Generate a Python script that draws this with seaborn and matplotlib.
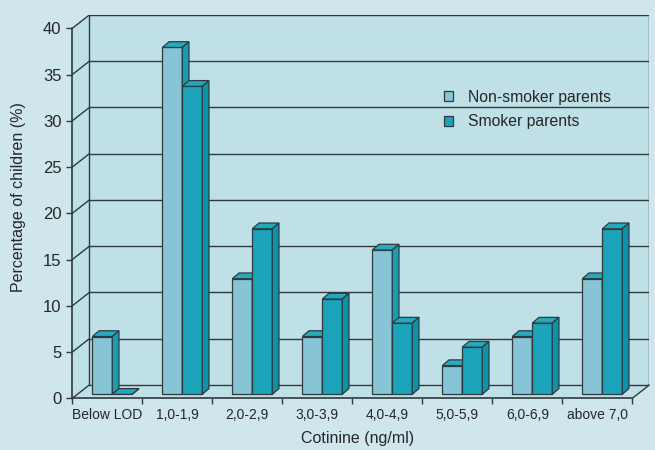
import matplotlib
matplotlib.use("Agg")
import matplotlib.pyplot as plt
from matplotlib.patches import Polygon, Patch
import seaborn as sns
import pandas as pd

# Percentages of children per cotinine range
categories = ["Below LOD", "1,0-1,9", "2,0-2,9", "3,0-3,9",
              "4,0-4,9", "5,0-5,9", "6,0-6,9", "above 7,0"]
non_smoker = [6.25, 37.5, 12.5, 6.25, 15.6, 3.1, 6.25, 12.5]
smoker = [0.0, 33.3, 17.9, 10.3, 7.7, 5.1, 7.7, 17.9]
series_names = ["Non-smoker parents", "Smoker parents"]
y_ticks = [0, 5, 10, 15, 20, 25, 30, 35, 40]

df = pd.DataFrame({
    "range": categories * 2,
    "pct": non_smoker + smoker,
    "group": [series_names[0]] * len(categories) + [series_names[1]] * len(categories),
})

OUTER = "#cfe6ed"
INNER = "#bfe0e7"
LINE = "#2e3a3e"
TEXT = "#262626"
FRONT = ["#87c5d6", "#1ba3ba"]
TOP = ["#28a9bf", "#24a8be"]
SIDE = ["#179db3", "#0b93a9"]

sns.set_theme(style="white")
plt.rcParams["font.family"] = ["Liberation Sans", "DejaVu Sans"]
plt.rcParams["text.color"] = TEXT

fig = plt.figure(figsize=(6.55, 4.5), dpi=100, facecolor=OUTER)
ax = fig.add_axes([72.3 / 655, (450 - 398.3) / 450, 577 / 655, 383.3 / 450])
ax.set_facecolor(OUTER)

# depth of the box (back wall offset) and of the bars, in data units
wall_dx, wall_dy = 0.243, 1.44
plane_dx, plane_dy = 0.071, 0.43
bar_dx, bar_dy = 0.096, 0.62
ymax = 40

sns.barplot(data=df, x="range", y="pct", hue="group", order=categories,
            hue_order=series_names, palette=FRONT, saturation=1, width=0.571,
            edgecolor=LINE, linewidth=0.9, legend=False, ax=ax)

# walls and floor
nx = len(categories)
x0, x1 = -0.5, nx - 0.5
ax.add_patch(Polygon([(x0, 0), (x0, ymax), (x0 + wall_dx, ymax + wall_dy),
                      (x1 + wall_dx, ymax + wall_dy), (x1 + wall_dx, wall_dy),
                      (x1, 0)], closed=True, facecolor=INNER, edgecolor="none", zorder=0))
for v in y_ticks:
    ax.plot([x0 + wall_dx, x1 + wall_dx], [v + wall_dy, v + wall_dy],
            color=LINE, lw=1.0, zorder=1, solid_capstyle="butt")
    ax.plot([x0, x0 + wall_dx], [v, v + wall_dy], color=LINE, lw=1.0, zorder=1)
ax.plot([x0 + wall_dx] * 2, [wall_dy, ymax + wall_dy], color=LINE, lw=1.0, zorder=1)
ax.plot([x1 + wall_dx] * 2, [wall_dy, ymax + wall_dy], color=LINE, lw=1.0, zorder=1)
ax.plot([x1, x1 + wall_dx], [0, wall_dy], color=LINE, lw=1.0, zorder=1, clip_on=False)
ax.plot([x0, x1], [0, 0], color=LINE, lw=1.2, zorder=6, clip_on=False)
ax.plot([x0, x0], [0, ymax], color=LINE, lw=1.2, zorder=6, clip_on=False)

# move front faces onto the bar plane and add top and side faces
for k, cont in enumerate(ax.containers):
    z = 3 + k
    for p in cont.patches:
        p.set_x(p.get_x() + plane_dx)
        p.set_y(plane_dy)
        p.set_zorder(z)
        bx0 = p.get_x()
        bx1 = bx0 + p.get_width()
        by0 = p.get_y()
        by1 = by0 + p.get_height()
        top = Polygon([(bx0, by1), (bx1, by1), (bx1 + bar_dx, by1 + bar_dy),
                       (bx0 + bar_dx, by1 + bar_dy)], closed=True,
                      facecolor=TOP[k], edgecolor=LINE, lw=0.9, zorder=z)
        side = Polygon([(bx1, by0), (bx1 + bar_dx, by0 + bar_dy),
                        (bx1 + bar_dx, by1 + bar_dy), (bx1, by1)], closed=True,
                       facecolor=SIDE[k], edgecolor=LINE, lw=0.9, zorder=z)
        ax.add_patch(top)
        ax.add_patch(side)

ax.set_xlim(x0, x1 + wall_dx)
ax.set_ylim(0, ymax + wall_dy)
for s in ax.spines.values():
    s.set_visible(False)

# axes ticks
ax.set_yticks(y_ticks)
ax.set_yticklabels([str(v) for v in y_ticks], fontsize=12, color=TEXT)
ax.tick_params(axis="y", which="major", direction="out", length=4.3, width=1.0,
               color=LINE, pad=3.5, left=True)
ax.set_xticks([i - 0.5 for i in range(nx + 1)])
ax.set_xticklabels([])
ax.set_xticks(range(nx), minor=True)
ax.set_xticklabels(categories, minor=True, fontsize=10, color=TEXT)
ax.tick_params(axis="x", which="major", direction="out", length=4.3, width=1.0,
               color=LINE, bottom=True)
ax.tick_params(axis="x", which="minor", length=0, pad=7.2, bottom=True)

ax.set_xlabel("Cotinine (ng/ml)", fontsize=11.5, color=TEXT)
ax.xaxis.label.set_va("center")
ax.xaxis.set_label_coords(0.495, -0.1036)
ax.set_ylabel("Percentage of children (%)", fontsize=11.5, color=TEXT)
ax.yaxis.label.set_va("center")
ax.yaxis.set_label_coords(-0.094, 0.525)

handles = [Patch(facecolor=FRONT[i], edgecolor=LINE, lw=0.9) for i in range(2)]
leg = ax.legend(handles, series_names, loc="upper left",
                bbox_to_anchor=((444 - 72.3) / 577, (398.3 - 90) / 383.3),
                frameon=False, fontsize=11.3, borderpad=0, borderaxespad=0,
                handlelength=0.6, handleheight=0.6, handletextpad=0.9,
                labelspacing=0.6)
for t in leg.get_texts():
    t.set_color(TEXT)

fig.savefig("out.png", dpi=100, facecolor=OUTER)
